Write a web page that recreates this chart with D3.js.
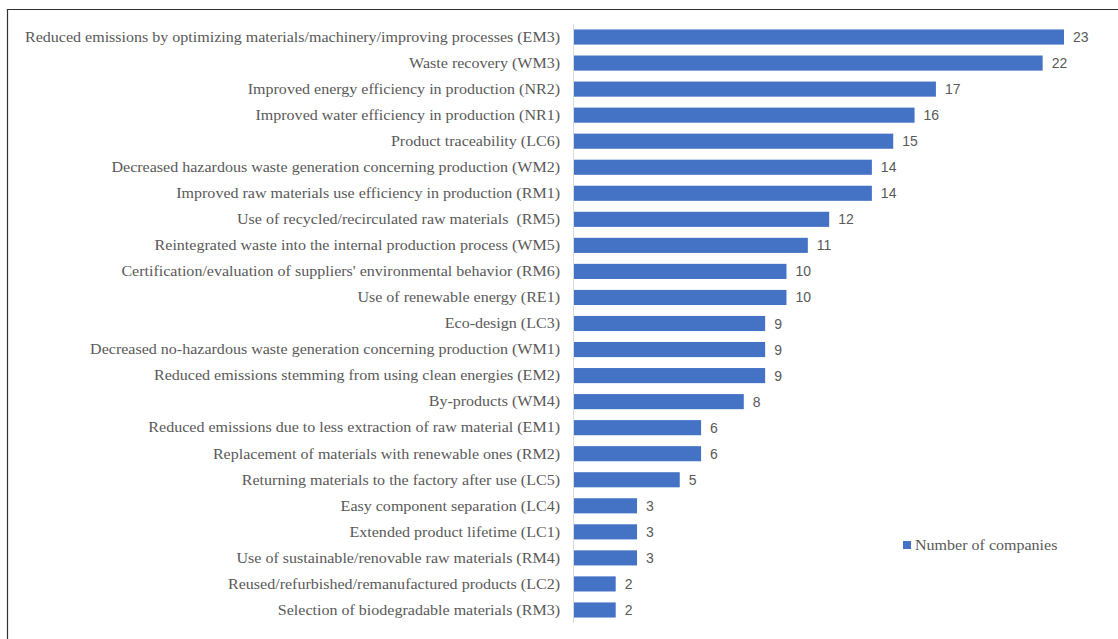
<!DOCTYPE html>
<html>
<head>
<meta charset="utf-8">
<script src="https://cdn.jsdelivr.net/npm/d3@7"></script>
<style>
  body { margin: 0; background: #fff; }
  text { white-space: pre; }
</style>
</head>
<body>
<div id="chart"></div>
<script>
const width = 1118;
const height = 639;

const categories = [
  'Reduced emissions by optimizing materials/machinery/improving processes (EM3)',
  'Waste recovery (WM3)',
  'Improved energy efficiency in production (NR2)',
  'Improved water efficiency in production (NR1)',
  'Product traceability (LC6)',
  'Decreased hazardous waste generation concerning production (WM2)',
  'Improved raw materials use efficiency in production (RM1)',
  'Use of recycled/recirculated raw materials  (RM5)',
  'Reintegrated waste into the internal production process (WM5)',
  "Certification/evaluation of suppliers' environmental behavior (RM6)",
  'Use of renewable energy (RE1)',
  'Eco-design (LC3)',
  'Decreased no-hazardous waste generation concerning production (WM1)',
  'Reduced emissions stemming from using clean energies (EM2)',
  'By-products (WM4)',
  'Reduced emissions due to less extraction of raw material (EM1)',
  'Replacement of materials with renewable ones (RM2)',
  'Returning materials to the factory after use (LC5)',
  'Easy component separation (LC4)',
  'Extended product lifetime (LC1)',
  'Use of sustainable/renovable raw materials (RM4)',
  'Reused/refurbished/remanufactured products (LC2)',
  'Selection of biodegradable materials (RM3)'
];
const companies = [23, 22, 17, 16, 15, 14, 14, 12, 11, 10, 10, 9, 9, 9, 8, 6, 6, 5, 3, 3, 3, 2, 2];
const seriesName = 'Number of companies';

const axisX = 573;
const barColor = '#4472C4';
const textColor = '#595959';
const serif = '"Palatino Linotype", Palatino, "Book Antiqua", "Liberation Serif", serif';

const svg = d3.select('#chart')
  .append('svg')
    .attr('width', width)
    .attr('height', height);

// frame
svg.append('path')
  .attr('d', `M7.5,${height} V9.5 H${width}`)
  .attr('fill', 'none')
  .attr('stroke', '#333')
  .attr('stroke-width', 1.2);

const x = d3.scaleLinear().domain([0, 23]).range([axisX, 1064]);
const y = d3.scaleBand().domain(categories).range([24, 623]).paddingInner(0.42).paddingOuter(0.21);

// bars
svg.append('g')
  .selectAll('rect')
  .data(companies)
  .join('rect')
    .attr('x', x(0))
    .attr('y', (d, i) => y(categories[i]))
    .attr('width', d => x(d) - x(0))
    .attr('height', y.bandwidth())
    .attr('fill', barColor);

// value labels
svg.append('g')
  .selectAll('text')
  .data(companies)
  .join('text')
    .attr('x', d => x(d) + 9)
    .attr('y', (d, i) => y(categories[i]) + y.bandwidth() / 2)
    .attr('dy', '0.36em')
    .attr('font-family', '"Liberation Sans", Arial, sans-serif')
    .attr('font-size', 14)
    .attr('fill', textColor)
    .text(d => d);

// category axis
const yAxis = svg.append('g')
  .attr('transform', `translate(${axisX}, 0)`)
  .call(d3.axisLeft(y).tickSize(0).tickPadding(13));

yAxis.select('.domain')
  .attr('stroke', '#d9d9d9')
  .attr('d', 'M0.5,24V623');

const labels = yAxis.selectAll('.tick text')
  .attr('font-family', serif)
  .attr('font-size', 15)
  .attr('fill', textColor);

// stretch the labels to the width of the original (wider) serif face
const longest = labels.nodes()[0].getComputedTextLength();
const ratio = 535 / longest;
labels.each(function() {
  const w = this.getComputedTextLength();
  d3.select(this)
    .attr('textLength', w * ratio)
    .attr('lengthAdjust', 'spacingAndGlyphs');
});

// legend
const legend = svg.append('g').attr('transform', 'translate(903, 545)');
legend.append('rect')
  .attr('x', 0)
  .attr('y', -4)
  .attr('width', 8)
  .attr('height', 8)
  .attr('fill', barColor);
const legendText = legend.append('text')
  .attr('x', 12)
  .attr('dy', '0.35em')
  .attr('font-family', serif)
  .attr('font-size', 15)
  .attr('fill', textColor)
  .text(seriesName);
legendText
  .attr('textLength', legendText.node().getComputedTextLength() * ratio)
  .attr('lengthAdjust', 'spacingAndGlyphs');
</script>
</body>
</html>
